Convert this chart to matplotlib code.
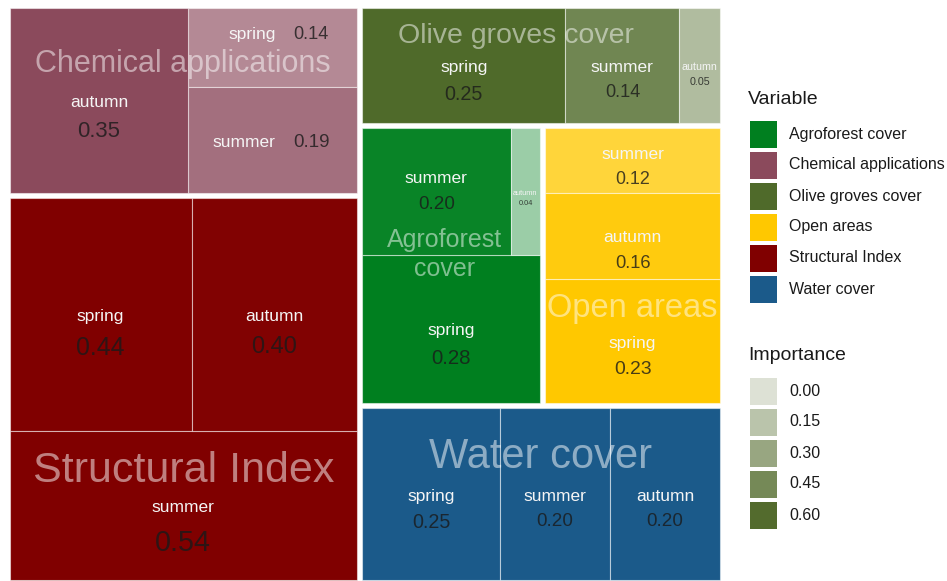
import numpy as np
import matplotlib
matplotlib.use('Agg')
import matplotlib.pyplot as plt
from matplotlib.patches import Rectangle
from matplotlib.colors import to_rgb

plt.rcParams['font.family'] = ['Liberation Sans', 'DejaVu Sans']

# datos
variables = ['Agroforest cover', 'Chemical applications', 'Olive groves cover',
             'Open areas', 'Structural Index', 'Water cover']
var_colors = ['#007F1F', '#8B4A5C', '#4F6A2A', '#FFC800', '#800000', '#1B5A8A']

seasons = ['spring', 'summer', 'autumn']
agroforest = [0.28, 0.20, 0.04]
chemical = [0.14, 0.19, 0.35]
olive = [0.25, 0.14, 0.05]
open_areas = [0.23, 0.12, 0.16]
structural = [0.44, 0.54, 0.40]
water = [0.25, 0.20, 0.20]

importance_breaks = [0.00, 0.15, 0.30, 0.45, 0.60]

values = dict(zip(variables, [agroforest, chemical, olive, open_areas,
                              structural, water]))
colors = dict(zip(variables, var_colors))

# disposicion do treemap: 'h' = lado a lado, 'v' = apilado
group_layout = ('h', [('v', ['Chemical applications', 'Structural Index']),
                      ('v', ['Olive groves cover',
                             ('h', ['Agroforest cover', 'Open areas']),
                             'Water cover'])])
tile_layout = {
    'Chemical applications': ('h', ['autumn', ('v', ['spring', 'summer'])]),
    'Structural Index': ('v', [('h', ['spring', 'autumn']), 'summer']),
    'Olive groves cover': ('h', ['spring', 'summer', 'autumn']),
    'Agroforest cover': ('v', [('h', ['summer', 'autumn']), 'spring']),
    'Open areas': ('v', ['summer', 'autumn', 'spring']),
    'Water cover': ('h', ['spring', 'summer', 'autumn']),
}

# estilo das etiquetas de grupo
group_fs = {'Structural Index': 31, 'Water cover': 30, 'Chemical applications': 22,
            'Olive groves cover': 20.5, 'Agroforest cover': 18, 'Open areas': 23.5}
group_yfrac = {'Structural Index': 0.715, 'Water cover': 0.285,
               'Chemical applications': 0.30, 'Olive groves cover': 0.24,
               'Agroforest cover': 0.46, 'Open areas': 0.655}
group_xoff = {'Olive groves cover': -25, 'Agroforest cover': -7}
group_text = {'Agroforest cover': 'Agroforest\ncover'}
inline = {('Chemical applications', 'spring'), ('Chemical applications', 'summer')}
nudge = {('Chemical applications', 'spring'): -15, ('Agroforest cover', 'summer'): -15}


def weight(node, valfn):
    if isinstance(node, str):
        return valfn(node)
    return sum(weight(c, valfn) for c in node[1])


def split(node, x, y, w, h, valfn, out):
    if isinstance(node, str):
        out[node] = (x, y, w, h)
        return
    d, children = node
    tot = weight(node, valfn)
    for c in children:
        f = weight(c, valfn) / tot
        if d == 'h':
            split(c, x, y, w * f, h, valfn, out)
            x += w * f
        else:
            split(c, x, y, w, h * f, valfn, out)
            y += h * f


def alpha_of(v, vmax):
    return float(np.clip(0.25 + v / vmax, 0, 1))


def blend(c, a):
    c = np.array(to_rgb(c))
    return tuple(1 - a * (1 - c))


W_px, H_px = 947, 581
fig = plt.figure(figsize=(W_px / 100, H_px / 100), dpi=100)
x0, x1, y0, y1 = 7.0, 722.5, 5.5, 582.5
ax = fig.add_axes([x0 / W_px, 1 - y1 / H_px, (x1 - x0) / W_px, (y1 - y0) / H_px])
ax.set_xlim(0, x1 - x0)
ax.set_ylim(y1 - y0, 0)
ax.axis('off')
r = fig.canvas.get_renderer()

groups = {}
split(group_layout, 0, 0, x1 - x0, y1 - y0, lambda g: sum(values[g]), groups)

gap = 2.5
for g in variables:
    gx, gy, gw, gh = groups[g]
    gx, gy, gw, gh = gx + gap, gy + gap, gw - 2 * gap, gh - 2 * gap
    vals = dict(zip(seasons, values[g]))
    vmax = max(values[g])
    tiles = {}
    split(tile_layout[g], gx, gy, gw, gh, lambda s: vals[s], tiles)
    for s in seasons:
        tx, ty, tw, th = tiles[s]
        v = vals[s]
        ax.add_patch(Rectangle((tx, ty), tw, th,
                               facecolor=blend(colors[g], alpha_of(v, vmax)),
                               edgecolor=(1, 1, 1, 0.5), linewidth=0.8))
        cx, cy = tx + tw / 2, ty + th / 2 + 2 + nudge.get((g, s), 0)
        vtxt = '%.2f' % v
        vfs = 12.5 + 28 * v ** 2
        if (g, s) in inline:
            ax.text(cx + 3, cy, s, ha='right', va='center', fontsize=12.5, color='#f5f5f5')
            ax.text(cx + 20, cy, vtxt, ha='left', va='center', fontsize=vfs,
                    color='#1a1a1a', alpha=0.8)
            continue
        t1 = ax.text(cx, cy, s, ha='center', va='center', fontsize=12.5, color='#f5f5f5')
        t2 = ax.text(cx, cy, vtxt, ha='center', va='center', fontsize=vfs,
                     color='#1a1a1a', alpha=0.8)
        wmax = max(t1.get_window_extent(r).width, t2.get_window_extent(r).width)
        k = min(1.0, (tw - 5) / wmax)
        t1.set_fontsize(12.5 * k)
        t2.set_fontsize(vfs * k)
        d = (5 + 1.0 * vfs) * k * 100 / 72
        vy = cy + d
        bottom = vy + vfs * k * 100 / 72 / 2
        if bottom > ty + th - 4:
            shift = bottom - (ty + th - 4)
            cy -= shift
            vy -= shift
        t1.set_y(cy)
        t2.set_y(vy)
    ax.text(gx + gw / 2 + group_xoff.get(g, 0), gy + gh * group_yfrac[g],
            group_text.get(g, g), ha='center', va='center', fontsize=group_fs[g],
            color='white', alpha=0.5, linespacing=1.25)

# lendas
lax = fig.add_axes([0, 0, 1, 1])
lax.set_xlim(0, W_px)
lax.set_ylim(H_px, 0)
lax.axis('off')

lax.text(748, 99, 'Variable', fontsize=14, va='center', ha='left', color='#1a1a1a')
for i, (v, c) in enumerate(zip(variables, var_colors)):
    yc = 134 + 31 * i
    lax.add_patch(Rectangle((750, yc - 13.5), 27, 27, facecolor=c, edgecolor='none'))
    lax.text(789, yc, v, fontsize=11.5, va='center', ha='left', color='#1a1a1a')

lax.text(748, 356, 'Importance', fontsize=14, va='center', ha='left', color='#1a1a1a')
for i, b in enumerate(importance_breaks):
    yc = 391 + 31 * i
    lax.add_patch(Rectangle((750, yc - 13.5), 27, 27,
                            facecolor=blend('#536B2D', 0.2 + b * 0.8 / 0.6),
                            edgecolor='none'))
    lax.text(789, yc, '%.2f' % b, fontsize=11.5, va='center', ha='left', color='#1a1a1a')

fig.savefig('out.png', dpi=100)
